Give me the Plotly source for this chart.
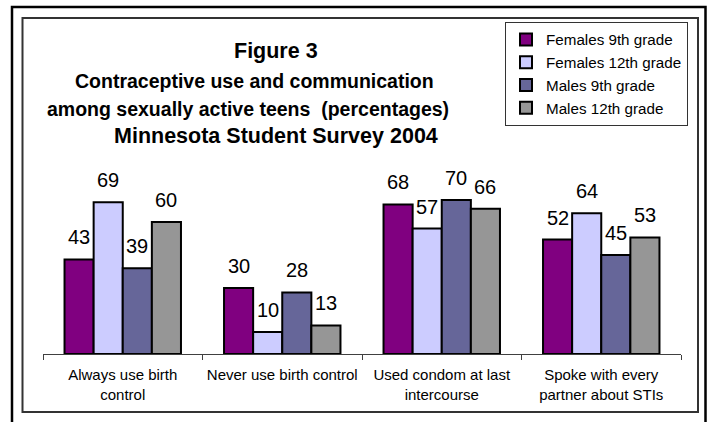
import plotly.graph_objects as go

# ---- data ----
categories = ["Always use birth<br>control", "Never use birth control",
              "Used condom at last<br>intercourse", "Spoke with every<br>partner about STIs"]
series_names = ["Females 9th grade", "Females 12th grade", "Males 9th grade", "Males 12th grade"]
females_9th = [43, 30, 68, 52]
females_12th = [69, 10, 57, 64]
males_9th = [39, 28, 70, 45]
males_12th = [60, 13, 66, 53]
series_values = [females_9th, females_12th, males_9th, males_12th]
colors = ["#800080", "#CCCCFF", "#666699", "#969696"]
title_lines = ["Figure 3",
               "Contraceptive use and communication",
               "among sexually active teens  (percentages)",
               "Minnesota Student Survey 2004"]

# ---- layout geometry ----
W, H = 708, 422
ML, MR, MT, MB = 43, 27, 178, 68
PW, PH = W - ML - MR, H - MT - MB
BARGAP = 0.27
FONT = "Arial, 'Liberation Sans', sans-serif"


def px_x(p):
    return (p - ML) / PW


def px_y(p):
    return (H - MB - p) / PH


fig = go.Figure()
for name, vals, col in zip(series_names, series_values, colors):
    fig.add_trace(go.Bar(
        x=categories, y=vals, name=name,
        marker=dict(color=col, line=dict(color="black", width=2)),
    ))

# value labels above each bar, placed through the axis scales
n = len(series_names)
bw = (1 - BARGAP) / n
annotations = []
for k, vals in enumerate(series_values):
    off = (k - (n - 1) / 2) * bw
    for i, v in enumerate(vals):
        annotations.append(dict(
            x=i + off, y=v, xref="x", yref="y", text=str(v), showarrow=False,
            yanchor="bottom", xanchor="center", yshift=9,
            font=dict(family=FONT, size=20, color="black"),
        ))

# title block, one annotation per line (centres/sizes as in the reference)
title_sizes = [21.5, 19.5, 19.5, 21.5]
title_cx = [276, 254, 248, 276]
title_cy = [50.8, 80.5, 109.2, 135.5]
for t, s, cx, cy in zip(title_lines, title_sizes, title_cx, title_cy):
    annotations.append(dict(
        x=px_x(cx), y=px_y(cy), xref="paper", yref="paper",
        text=f"<b>{t}</b>", showarrow=False,
        xanchor="center", yanchor="middle", align="center",
        font=dict(family=FONT, size=s, color="black"),
    ))

shapes = [
    # inner frame
    dict(type="rect", xref="paper", yref="paper",
         x0=px_x(22.5), x1=px_x(698), y0=px_y(412), y1=px_y(18),
         line=dict(color="#333333", width=2)),
    # outer frame (open at bottom)
    dict(type="path", xref="paper", yref="paper",
         path=f"M {px_x(12)},{px_y(422)} L {px_x(12)},{px_y(7)} L {px_x(705.5)},{px_y(7)} L {px_x(705.5)},{px_y(422)}",
         line=dict(color="black", width=2.5)),
]

fig.update_layout(
    width=W, height=H,
    margin=dict(l=ML, r=MR, t=MT, b=MB, autoexpand=False),
    paper_bgcolor="white", plot_bgcolor="white",
    barmode="group", bargap=BARGAP, bargroupgap=0,
    font=dict(family=FONT, color="black"),
    showlegend=True,
    legend=dict(
        x=px_x(505), y=px_y(22), xanchor="left", yanchor="top",
        bordercolor="#333333", borderwidth=1, bgcolor="white",
        font=dict(family=FONT, size=15.2, color="black"),
        traceorder="normal",
    ),
    xaxis=dict(
        range=[-0.5, 3.5], showline=True, linecolor="#404040", linewidth=1,
        ticks="outside", ticklen=5, tickcolor="#404040", tickson="boundaries",
        tickangle=0, automargin=False, ticklabelstandoff=7,
        tickfont=dict(family=FONT, size=15, color="black"), showgrid=False,
    ),
    yaxis=dict(visible=False, range=[0, 80]),
    annotations=annotations,
    shapes=shapes,
)

fig.write_html("out.html", config={"displayModeBar": False},
               post_script="document.body.style.margin='0';")
